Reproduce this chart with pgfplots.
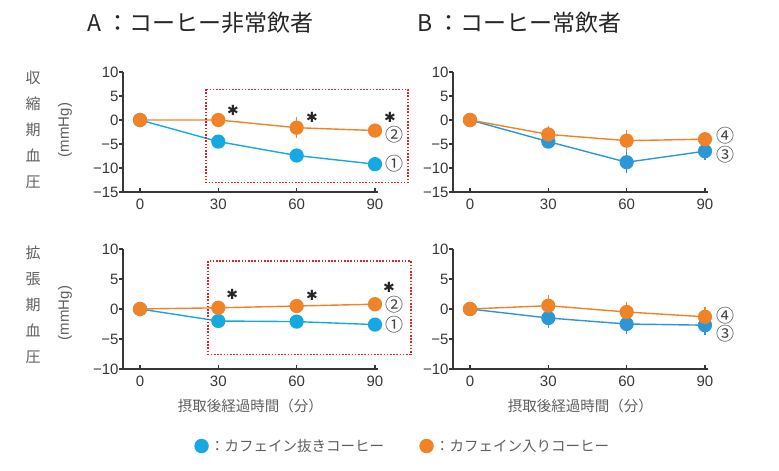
\documentclass[border=0pt]{standalone}
\usepackage{pgfplots}
\pgfplotsset{compat=1.18}
\usepackage{fontspec}
\setmainfont{Liberation Sans}
\newfontfamily\jp{Noto Sans CJK JP}
\newfontfamily\dv{DejaVu Sans}

\definecolor{decaf}{RGB}{22,168,224}
\definecolor{decafB}{RGB}{44,150,214}
\definecolor{caf}{RGB}{240,130,40}
\definecolor{axgray}{RGB}{55,55,55}
\definecolor{labgray}{RGB}{95,95,95}
\definecolor{boxred}{RGB}{220,35,45}

\tikzset{
  star/.style={font=\dv\fontsize{14}{14}\selectfont, text=black!85, inner sep=0pt},
  num/.style={font=\jp\fontsize{18}{18}\selectfont, text=black!75, inner sep=0pt},
  redbox/.style={boxred, line width=1.5pt, dash pattern=on 1.6pt off 1.6pt},
}

\pgfplotsset{
  panel/.style={
    scale only axis, width=254.6pt, height=120pt,
    xmin=-6.5, xmax=91,
    axis x line*=bottom, axis y line*=left,
    axis line style={axgray, line width=1.3pt, -},
    tick style={axgray, line width=1.1pt},
    tick align=inside, major tick length=4pt,
    ytick style={xshift=-4pt},
    xtick={0,30,60,90}, xticklabels={0,30,60,90},
    ticklabel style={font=\fontsize{15}{15}\selectfont, text=axgray},
    xticklabel style={yshift=-3pt},
    yticklabel style={xshift=-1pt},
    clip=false,
    every axis plot/.append style={line width=1.4pt, mark=*, mark size=6.4pt,
      error bars/y dir=both, error bars/y explicit,
      error bars/error bar style={line width=1.2pt},
      error bars/error mark options={mark size=3pt, line width=1.2pt}},
  },
  top/.style={panel, ymin=-15, ymax=10, ytick={-15,-10,...,10},
    yticklabels={−15,−10,−5,0,5,10}},
  bot/.style={panel, ymin=-10, ymax=10, ytick={-10,-5,0,5,10},
    yticklabels={−10,−5,0,5,10},
    xlabel={\jp 摂取後経過時間（分）},
    xlabel style={at={(axis description cs:0.5,-0.31)}, anchor=center,
      font=\jp\fontsize{14.5}{16}\selectfont, text=labgray}},
}

\begin{document}
\begin{tikzpicture}
\path[use as bounding box] (0,0) rectangle (779pt,471pt);

% titles and row labels
\node[anchor=west, font=\jp\fontsize{23}{23}\selectfont, text=black!85] at (84pt,448pt) {A ：コーヒー非常飲者};
\node[anchor=west, font=\jp\fontsize{23}{23}\selectfont, text=black!85] at (414pt,448pt) {B ：コーヒー常飲者};
\node[font=\jp\fontsize{15}{26}\selectfont, align=center, text=labgray] at (33pt,341pt) {収\\縮\\期\\血\\圧};
\node[font=\jp\fontsize{15}{26}\selectfont, align=center, text=labgray] at (33pt,166.5pt) {拡\\張\\期\\血\\圧};
\node[rotate=90, font=\fontsize{15}{15}\selectfont, text=labgray] at (65pt,341pt) {(mmHg)};
\node[rotate=90, font=\fontsize{15}{15}\selectfont, text=labgray] at (65pt,158pt) {(mmHg)};

% A: systolic
\begin{axis}[top, at={(123pt,279pt)}, anchor=south west]
\addplot[decaf, forget plot] coordinates {(0,0) +- (0,0) (30,-4.5) +- (0,0.5) (60,-7.4) +- (0,0.6) (90,-9.2) +- (0,0.5)};
\addplot[caf, forget plot] coordinates {(0,0) +- (0,0) (30,0) +- (0,0.5) (60,-1.6) +- (0,1.5) (90,-2.2) +- (0,0.6)};
\draw[redbox] (25.2,6.4) rectangle (102.7,-13.0);
\node[star] at (35.6,2.1) {✱};
\node[star] at (65.9,0.6) {✱};
\node[star] at (95.7,0.6) {✱};
\node[num] at (97.3,-3.1) {②};
\node[num] at (97.3,-9.2) {①};
\end{axis}

% B: systolic
\begin{axis}[top, at={(453pt,279pt)}, anchor=south west]
\addplot[decafB, forget plot] coordinates {(0,0) +- (0,0) (30,-4.5) +- (0,0.8) (60,-8.8) +- (0,1.7) (90,-6.5) +- (0,1.2)};
\addplot[caf, forget plot] coordinates {(0,0) +- (0,0) (30,-3.0) +- (0,1.2) (60,-4.3) +- (0,1.5) (90,-4.0) +- (0,0.6)};
\node[num] at (97.7,-3.3) {④};
\node[num] at (97.7,-7.3) {③};
\end{axis}

% A: diastolic
\begin{axis}[bot, at={(123pt,102pt)}, anchor=south west,
  legend columns=2,
  legend style={draw=none, fill=none, at={(1.10,-0.642)}, anchor=center,
    font=\jp\fontsize{14.5}{16}\selectfont, text=labgray,
    /tikz/every even column/.append style={column sep=34pt}}]
\addplot[decaf, forget plot] coordinates {(0,0) +- (0,0) (30,-2.0) +- (0,0.5) (60,-2.1) +- (0,0.6) (90,-2.6) +- (0,0.5)};
\addplot[caf, forget plot] coordinates {(0,0) +- (0,0) (30,0.2) +- (0,0.5) (60,0.5) +- (0,0.7) (90,0.8) +- (0,0.6)};
\draw[redbox] (26.1,8.0) rectangle (103.7,-7.55);
\node[star] at (35.3,2.5) {✱};
\node[star] at (65.9,2.2) {✱};
\node[star] at (95.4,3.6) {✱};
\node[num] at (97.3,0.8) {②};
\node[num] at (97.3,-2.6) {①};
\addlegendimage{only marks, mark=*, mark size=6.5pt, decaf}
\addlegendentry{：カフェイン抜きコーヒー}
\addlegendimage{only marks, mark=*, mark size=6.5pt, caf}
\addlegendentry{：カフェイン入りコーヒー}
\end{axis}

% B: diastolic
\begin{axis}[bot, at={(453pt,102pt)}, anchor=south west]
\addplot[decafB, forget plot] coordinates {(0,0) +- (0,0) (30,-1.5) +- (0,1.2) (60,-2.5) +- (0,1.2) (90,-2.7) +- (0,1.2)};
\addplot[caf, forget plot] coordinates {(0,0) +- (0,0) (30,0.55) +- (0,1.3) (60,-0.5) +- (0,1.1) (90,-1.3) +- (0,1.2)};
\node[num] at (97.7,-1.1) {④};
\node[num] at (97.7,-4.1) {③};
\end{axis}
\end{tikzpicture}
\end{document}
